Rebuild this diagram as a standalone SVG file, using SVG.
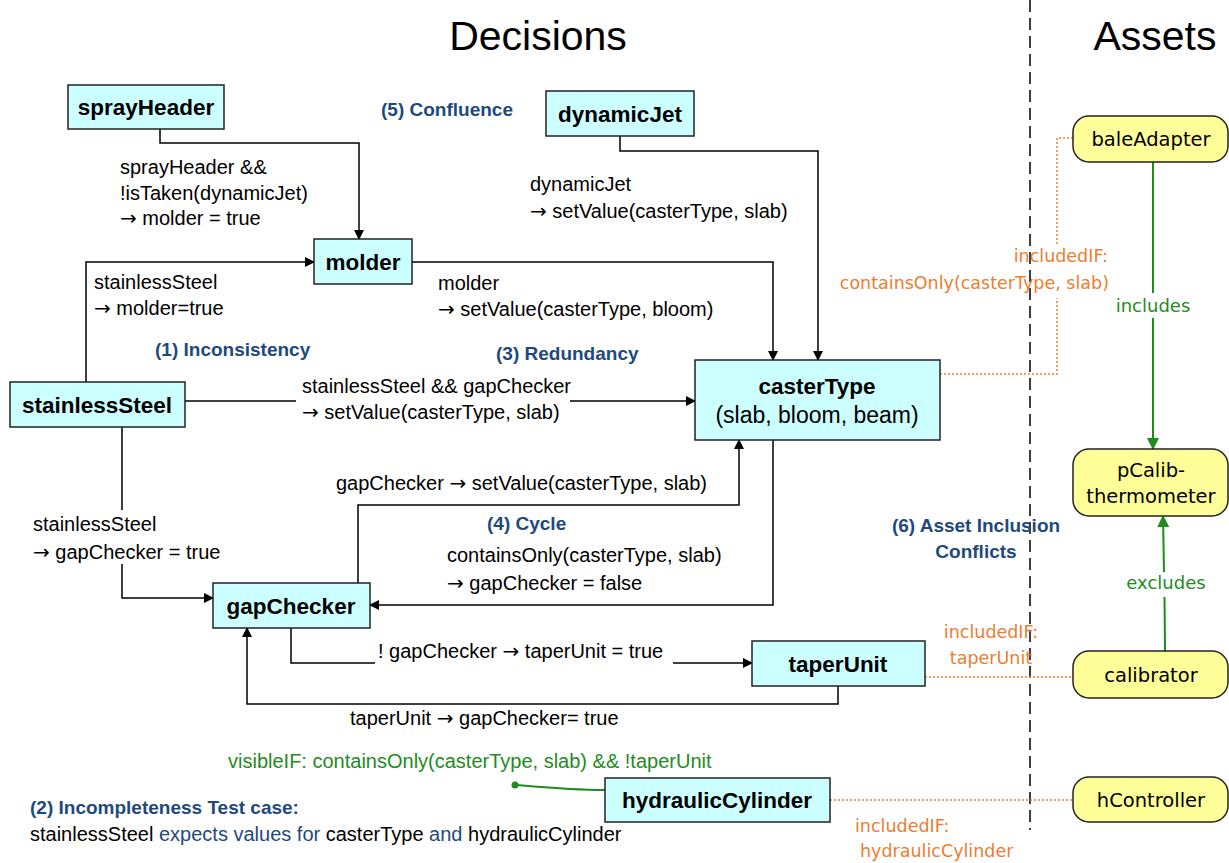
<svg xmlns="http://www.w3.org/2000/svg" width="1229" height="863" viewBox="0 0 1229 863">
<style>
.node rect{fill:#CCFFFF;stroke:#222;stroke-width:1.5}
.asset rect{fill:#FFFF99;stroke:#222;stroke-width:1.5}
.nt{font-family:"Liberation Sans",Arial,sans-serif;font-weight:bold;font-size:22.5px;fill:#000;text-anchor:middle}
.at{font-family:"DejaVu Sans",Verdana,sans-serif;font-size:19.5px;fill:#000;text-anchor:middle}
.lbl{font-family:"Liberation Sans",Arial,sans-serif;font-size:20px;fill:#000}
.ar{font-family:"DejaVu Sans",sans-serif}
.blue{font-family:"Liberation Sans",Arial,sans-serif;font-size:19px;font-weight:bold;fill:#1F497D}
.or{font-family:"DejaVu Sans",Verdana,sans-serif;font-size:17.5px;fill:#ED7D31}
.gr{font-family:"DejaVu Sans",Verdana,sans-serif;font-size:18px;fill:#1E8C1E;text-anchor:middle}
.vis{font-family:"Liberation Sans",Arial,sans-serif;font-size:20px;fill:#1E8C1E}
.title{font-family:"Liberation Sans",Arial,sans-serif;font-size:41px;fill:#000;text-anchor:middle}
.c{fill:none;stroke:#000;stroke-width:1.5}
.o{fill:none;stroke:#ED7D31;stroke-width:1.5;stroke-dasharray:2 2}
.g{fill:none;stroke:#1E8C1E;stroke-width:2}
</style>
<defs>
<marker id="ah" markerWidth="10" markerHeight="10" refX="9" refY="5" orient="auto" markerUnits="userSpaceOnUse"><path d="M0,0 L10,5 L0,10 z" fill="#000"/></marker>
<marker id="gh" markerWidth="12" markerHeight="12" refX="11" refY="6" orient="auto" markerUnits="userSpaceOnUse"><path d="M0,0 L12,6 L0,12 z" fill="#1E8C1E"/></marker>
</defs>
<rect width="1229" height="863" fill="#fff"/>
<text class="title" x="538" y="50">Decisions</text>
<text class="title" x="1155" y="50">Assets</text>
<line x1="1030" y1="0" x2="1030" y2="830" stroke="#000" stroke-width="1.5" stroke-dasharray="12 6"/>

<g id="connectors">
<path class="c" d="M160,129 V143 H359 V239" marker-end="url(#ah)"/>
<path class="c" d="M86,382 V262 H314" marker-end="url(#ah)"/>
<path class="c" d="M412,262 H773 V360" marker-end="url(#ah)"/>
<path class="c" d="M620,136 V151 H818 V360" marker-end="url(#ah)"/>
<path class="c" d="M185,401 H695" marker-end="url(#ah)"/>
<path class="c" d="M122,427 V598 H213" marker-end="url(#ah)"/>
<path class="c" d="M358,583 V505 H739 V440" marker-end="url(#ah)"/>
<path class="c" d="M773,440 V605 H370" marker-end="url(#ah)"/>
<path class="c" d="M291,628 V663 H752" marker-end="url(#ah)"/>
<path class="c" d="M838,686 V704 H247 V628" marker-end="url(#ah)"/>
<path class="o" d="M940,374 H1057 V298"/>
<path class="o" d="M1057,244 V138 H1073"/>
<path class="o" d="M925,677 H1073"/>
<path class="o" d="M830,800 H1073"/>
<path class="g" d="M1153,162 V293"/>
<path class="g" d="M1153,318 V449" marker-end="url(#gh)"/>
<path class="g" d="M1165,651 L1164.5,597"/>
<path class="g" d="M1164,572 L1163,516" marker-end="url(#gh)"/>
<path class="g" d="M605,790 C570,790 540,787 516,785" stroke-width="1.5"/>
<circle cx="515" cy="785" r="3.5" fill="#1E8C1E"/>
</g>

<g id="labels">
<text class="lbl" x="120" y="174">sprayHeader &amp;&amp;</text>
<text class="lbl" x="120" y="200">!isTaken(dynamicJet)</text>
<text class="lbl" x="120" y="225"><tspan class="ar">→</tspan> molder = true</text>
<text class="lbl" x="94" y="289">stainlessSteel</text>
<text class="lbl" x="94" y="315"><tspan class="ar">→</tspan> molder=true</text>
<text class="lbl" x="438" y="290">molder</text>
<text class="lbl" x="438" y="316"><tspan class="ar">→</tspan> setValue(casterType, bloom)</text>
<text class="lbl" x="530" y="191">dynamicJet</text>
<text class="lbl" x="530" y="218"><tspan class="ar">→</tspan> setValue(casterType, slab)</text>
<rect x="296" y="376" width="274" height="46" fill="#fff"/>
<text class="lbl" x="302" y="393">stainlessSteel &amp;&amp; gapChecker</text>
<text class="lbl" x="302" y="419"><tspan class="ar">→</tspan> setValue(casterType, slab)</text>
<rect x="30" y="510" width="196" height="54" fill="#fff"/>
<text class="lbl" x="33" y="531">stainlessSteel</text>
<text class="lbl" x="33" y="559"><tspan class="ar">→</tspan> gapChecker = true</text>
<text class="lbl" x="336" y="490">gapChecker <tspan class="ar">→</tspan> setValue(casterType, slab)</text>
<text class="lbl" x="447" y="562">containsOnly(casterType, slab)</text>
<text class="lbl" x="447" y="590"><tspan class="ar">→</tspan> gapChecker = false</text>
<rect x="375" y="640" width="298" height="26" fill="#fff"/>
<text class="lbl" x="378" y="658">! gapChecker <tspan class="ar">→</tspan> taperUnit = true</text>
<text class="lbl" x="350" y="725">taperUnit <tspan class="ar">→</tspan> gapChecker= true</text>
<text class="blue" x="381" y="116">(5) Confluence</text>
<text class="blue" x="155" y="356">(1) Inconsistency</text>
<text class="blue" x="496" y="360">(3) Redundancy</text>
<text class="blue" x="487" y="530">(4) Cycle</text>
<text class="blue" x="976" y="532" text-anchor="middle">(6) Asset Inclusion</text>
<text class="blue" x="976" y="558" text-anchor="middle">Conflicts</text>
<text class="blue" x="30" y="814">(2) Incompleteness Test case:</text>
<text class="lbl" x="30" y="841">stainlessSteel <tspan fill="#1F497D">expects values for</tspan> casterType <tspan fill="#1F497D">and</tspan> hydraulicCylinder</text>
<text class="or" x="1108" y="262" text-anchor="end">includedIF:</text>
<text class="or" x="1109" y="289" text-anchor="end">containsOnly(casterType, slab)</text>
<text class="or" x="991" y="638" text-anchor="middle">includedIF:</text>
<text class="or" x="991" y="664" text-anchor="middle">taperUnit</text>
<text class="or" x="855" y="832">includedIF:</text>
<text class="or" x="860" y="857">hydraulicCylinder</text>
<text class="gr" x="1153" y="312">includes</text>
<text class="gr" x="1166" y="589">excludes</text>
<text class="vis" x="228" y="768">visibleIF: containsOnly(casterType, slab) &amp;&amp; !taperUnit</text>
</g>

<g id="sprayHeader" class="node"><rect x="68" y="85" width="156" height="44"/><text class="nt" x="146" y="115">sprayHeader</text></g>
<g id="molder" class="node"><rect x="314" y="239" width="98" height="45"/><text class="nt" x="363" y="270">molder</text></g>
<g id="dynamicJet" class="node"><rect x="546" y="91" width="148" height="45"/><text class="nt" x="620" y="122">dynamicJet</text></g>
<g id="stainlessSteel" class="node"><rect x="10" y="382" width="175" height="45"/><text class="nt" x="97" y="413">stainlessSteel</text></g>
<g id="casterType" class="node"><rect x="695" y="360" width="245" height="80"/><text class="nt" x="817" y="394">casterType</text><text class="nt" x="817" y="423" style="font-weight:normal;font-size:23px">(slab, bloom, beam)</text></g>
<g id="gapChecker" class="node"><rect x="213" y="583" width="157" height="45"/><text class="nt" x="291" y="614">gapChecker</text></g>
<g id="taperUnit" class="node"><rect x="752" y="641" width="173" height="45"/><text class="nt" x="838" y="672">taperUnit</text></g>
<g id="hydraulicCylinder" class="node"><rect x="605" y="778" width="225" height="44"/><text class="nt" x="717" y="808">hydraulicCylinder</text></g>

<g id="baleAdapter" class="asset"><rect x="1073" y="116" width="155" height="46" rx="16"/><text class="at" x="1151" y="146">baleAdapter</text></g>
<g id="pCalib-thermometer" class="asset"><rect x="1073" y="449" width="155" height="67" rx="16"/><text class="at" x="1151" y="477">pCalib-</text><text class="at" x="1151" y="503">thermometer</text></g>
<g id="calibrator" class="asset"><rect x="1073" y="651" width="155" height="47" rx="16"/><text class="at" x="1151" y="682">calibrator</text></g>
<g id="hController" class="asset"><rect x="1073" y="777" width="155" height="45" rx="16"/><text class="at" x="1151" y="807">hController</text></g>
</svg>
